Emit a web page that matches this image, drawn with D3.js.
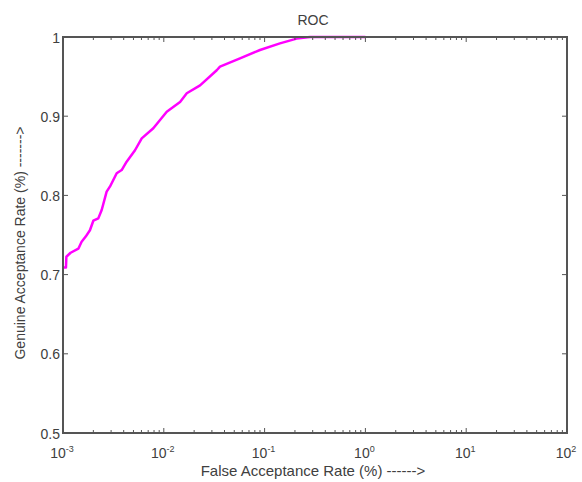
<!DOCTYPE html>
<html>
<head>
<meta charset="utf-8">
<script src="https://cdn.jsdelivr.net/npm/d3@7"></script>
<style>
  html, body { margin: 0; padding: 0; background: #fff; }
  svg text { font-family: "Liberation Sans", Arial, sans-serif; fill: #404040; }
</style>
</head>
<body>
<svg id="chart" width="582" height="482"></svg>
<script>
const far = [0.001, 0.00107, 0.00108, 0.00119, 0.00142, 0.00153, 0.00168, 0.00185, 0.0020, 0.00224, 0.00242, 0.00271, 0.00292, 0.00341, 0.00382, 0.00428, 0.00518, 0.00604, 0.00787, 0.0107, 0.0145, 0.0169, 0.0229, 0.0335, 0.0361, 0.0570, 0.0900, 0.142, 0.208, 0.282, 1.0];
const gar = [0.709, 0.709, 0.7225, 0.7276, 0.7327, 0.7415, 0.748, 0.756, 0.768, 0.771, 0.7816, 0.8047, 0.811, 0.828, 0.832, 0.8426, 0.857, 0.872, 0.8847, 0.9057, 0.918, 0.929, 0.939, 0.958, 0.9625, 0.973, 0.9836, 0.992, 0.998, 1.0, 1.0];
const xMajorTicks = [1e-3, 1e-2, 1e-1, 1e0, 1e1, 1e2];
const xTickExponents = ["-3", "-2", "-1", "0", "1", "2"];
const yTicks = [0.5, 0.6, 0.7, 0.8, 0.9, 1.0];
const yTickLabels = ["0.5", "0.6", "0.7", "0.8", "0.9", "1"];
const title = "ROC";
const xLabel = "False Acceptance Rate (%) ------>";
const yLabel = "Genuine Acceptance Rate (%) ------->";

const svg = d3.select("#chart");
const L = 63, R = 567, T = 37, B = 433;
const x = d3.scaleLog().domain([1e-3, 1e2]).range([L, R]);
const y = d3.scaleLinear().domain([0.5, 1]).range([B, T]);

const axisColor = "#555";
const fs = 14;

// minor ticks
const minor = [];
for (let e = -3; e < 2; e++) for (let m = 2; m <= 9; m++) minor.push(m * Math.pow(10, e));

const g = svg.append("g");

// curve
const line = d3.line().x((d, i) => x(far[i])).y((d, i) => y(gar[i]));
g.append("path").datum(far)
  .attr("d", line)
  .attr("fill", "none")
  .attr("stroke", "#ff00ff")
  .attr("stroke-width", 2.5)
  .attr("stroke-linejoin", "round");

// box
g.append("rect").attr("x", L).attr("y", T).attr("width", R - L).attr("height", B - T)
  .attr("fill", "none").attr("stroke", axisColor).attr("stroke-width", 2);

// x ticks bottom and top
[B, T].forEach(py => {
  const dir = py === B ? -1 : 1;
  g.selectAll(null).data(minor).enter().append("line")
    .attr("x1", d => x(d)).attr("x2", d => x(d))
    .attr("y1", py).attr("y2", py + dir * 3)
    .attr("stroke", axisColor).attr("stroke-width", 1);
  g.selectAll(null).data(xMajorTicks).enter().append("line")
    .attr("x1", d => x(d)).attr("x2", d => x(d))
    .attr("y1", py).attr("y2", py + dir * 5)
    .attr("stroke", axisColor).attr("stroke-width", 1);
});

// y ticks left and right
[L, R].forEach(px => {
  const dir = px === L ? 1 : -1;
  g.selectAll(null).data(yTicks).enter().append("line")
    .attr("x1", px).attr("x2", px + dir * 5)
    .attr("y1", d => y(d)).attr("y2", d => y(d))
    .attr("stroke", axisColor).attr("stroke-width", 1);
});

// y tick labels
g.selectAll(null).data(yTicks).enter().append("text")
  .attr("x", L - 3).attr("y", d => y(d) + 5.5)
  .attr("text-anchor", "end").attr("font-size", fs)
  .text((d, i) => yTickLabels[i]);

// x tick labels
xMajorTicks.forEach((d, i) => {
  const t = g.append("text").attr("x", x(d) - 1).attr("y", B + 25)
    .attr("text-anchor", "middle").attr("font-size", fs);
  t.append("tspan").text("10");
  t.append("tspan").attr("dy", -6).attr("font-size", 9).text(xTickExponents[i]);
});

// title
svg.append("text").attr("x", 313).attr("y", 25).attr("text-anchor", "middle")
  .attr("font-size", fs).text(title);

// axis labels
svg.append("text").attr("x", 313).attr("y", 476).attr("text-anchor", "middle")
  .attr("font-size", 15).text(xLabel);
svg.append("text").attr("transform", "translate(25,243) rotate(-90)")
  .attr("text-anchor", "middle").attr("font-size", fs).text(yLabel);
</script>
</body>
</html>
